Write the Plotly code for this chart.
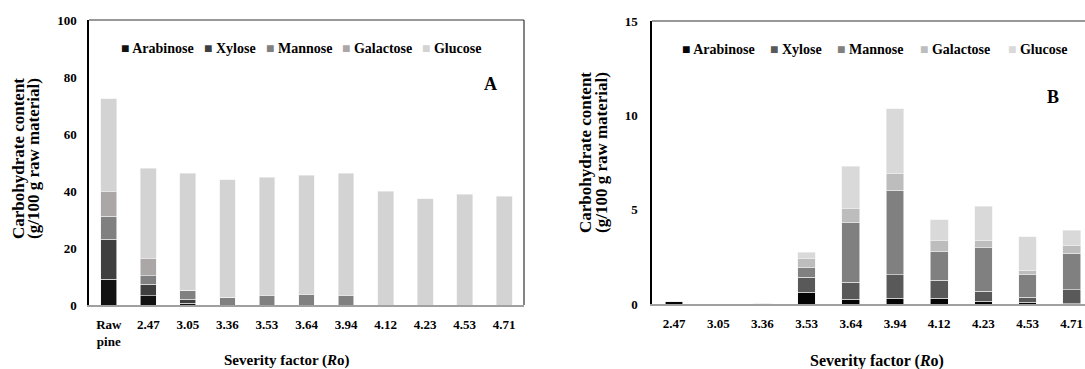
import plotly.graph_objects as go

# ---------------- data ----------------
sugars = ["Arabinose", "Xylose", "Mannose", "Galactose", "Glucose"]

# Panel A : carbohydrate content of solid fraction
cats_a = ["Raw pine", "2.47", "3.05", "3.36", "3.53", "3.64", "3.94", "4.12", "4.23", "4.53", "4.71"]
ticktext_a = ["Raw<br>pine", "2.47", "3.05", "3.36", "3.53", "3.64", "3.94", "4.12", "4.23", "4.53", "4.71"]
arabinose_a = [9.1, 3.3, 0.6, 0, 0, 0, 0, 0, 0, 0, 0]
xylose_a = [13.9, 3.9, 1.4, 0, 0, 0, 0, 0, 0, 0, 0]
mannose_a = [8.2, 3.1, 3.1, 2.8, 3.2, 3.6, 3.2, 0, 0, 0, 0]
galactose_a = [8.5, 6.0, 0, 0, 0, 0, 0, 0, 0, 0, 0]
glucose_a = [32.7, 31.6, 41.2, 41.1, 41.7, 42.0, 43.0, 40.0, 37.2, 38.9, 38.2]

# Panel B : carbohydrate content of liquid fraction
cats_b = ["2.47", "3.05", "3.36", "3.53", "3.64", "3.94", "4.12", "4.23", "4.53", "4.71"]
arabinose_b = [0.13, 0, 0.03, 0.63, 0.25, 0.30, 0.30, 0.14, 0.09, 0.02]
xylose_b = [0, 0, 0, 0.80, 0.91, 1.25, 0.97, 0.54, 0.27, 0.73]
mannose_b = [0, 0, 0, 0.53, 3.18, 4.49, 1.53, 2.30, 1.19, 1.95]
galactose_b = [0, 0, 0, 0.43, 0.71, 0.89, 0.59, 0.41, 0.24, 0.41]
glucose_b = [0, 0, 0, 0.34, 2.24, 3.43, 1.07, 1.79, 1.78, 0.80]

yticks_a = [0, 20, 40, 60, 80, 100]
yticks_b = [0, 5, 10, 15]

colors_a = ["#121212", "#3f3f3f", "#808080", "#aba7a7", "#d3d3d3"]
colors_b = ["#050505", "#595959", "#808080", "#bdbdbd", "#d9d9d9"]

# ---------------- figure ----------------
W, H = 1085, 369
FONT = "Liberation Serif"

def px_x(p):
    return p / W

def px_y(p):
    return (H - p) / H

fig = go.Figure()

series_a = [arabinose_a, xylose_a, mannose_a, galactose_a, glucose_a]
series_b = [arabinose_b, xylose_b, mannose_b, galactose_b, glucose_b]

for name, vals, col in zip(sugars, series_a, colors_a):
    fig.add_trace(go.Bar(x=cats_a, y=vals, name=name, xaxis="x", yaxis="y",
                         marker=dict(color=col, line=dict(color="#f2f2f2", width=0.6)),
                         showlegend=False))
for name, vals, col in zip(sugars, series_b, colors_b):
    fig.add_trace(go.Bar(x=cats_b, y=vals, name=name, xaxis="x2", yaxis="y2",
                         marker=dict(color=col, line=dict(color="#f2f2f2", width=0.6)),
                         showlegend=False))

tickfont = dict(family=FONT, size=13, color="black", weight="bold")

fig.update_layout(
    template="none",
    width=W, height=H, autosize=False,
    margin=dict(l=0, r=0, t=0, b=0, pad=0),
    paper_bgcolor="white", plot_bgcolor="white",
    barmode="stack", bargap=0.6,
    font=dict(family=FONT, color="black"),
    xaxis=dict(domain=[px_x(89), px_x(524)], anchor="y", type="category",
               categoryorder="array", categoryarray=cats_a,
               tickvals=cats_a, ticktext=ticktext_a, automargin=False,
               range=[-0.5, 10.5], showline=True, linecolor="#a0a0a0", linewidth=2,
               ticks="", showgrid=False, zeroline=False, tickfont=tickfont, ticklabelstandoff=6),
    yaxis=dict(domain=[px_y(305), px_y(20)], anchor="x", range=[0, 100], automargin=False,
               tickvals=yticks_a, showline=True, linecolor="black", linewidth=1.5,
               ticks="", showgrid=False, zeroline=False, tickfont=tickfont,
               ticklabelstandoff=8),
    xaxis2=dict(domain=[px_x(652), 1.0], anchor="y2", type="category",
                categoryorder="array", categoryarray=cats_b, automargin=False,
                range=[-0.5, 9.3], showline=True, linecolor="#a0a0a0", linewidth=2,
                ticks="", showgrid=False, zeroline=False, tickfont=tickfont, ticklabelstandoff=6),
    yaxis2=dict(domain=[px_y(304), px_y(21)], anchor="x2", range=[0, 15], automargin=False,
                tickvals=yticks_b, showline=True, linecolor="black", linewidth=1.5,
                ticks="", showgrid=False, zeroline=False, tickfont=tickfont,
                ticklabelstandoff=10),
)

# frame lines (top + right for A, top for B)
fig.add_shape(type="line", xref="x domain", yref="y domain", x0=0, x1=1, y0=1, y1=1,
              line=dict(color="#333333", width=1.2))
fig.add_shape(type="line", xref="x domain", yref="y domain", x0=1, x1=1, y0=0, y1=1,
              line=dict(color="#333333", width=1.2))
fig.add_shape(type="line", xref="x2 domain", yref="y2 domain", x0=0, x1=1, y0=1, y1=1,
              line=dict(color="#333333", width=1.2))

annots = []
# y-axis titles (two lines each)
for xc, txt in [(18, "Carbohydrate content"), (33, "(g/100 g raw material)")]:
    annots.append(dict(x=px_x(xc), y=px_y(159), xref="paper", yref="paper", text=txt,
                       textangle=-90, showarrow=False, xanchor="center", yanchor="middle",
                       font=dict(family=FONT, size=17, color="black", weight="bold")))
for xc, txt in [(585, "Carbohydrate content"), (601, "(g/100 g raw material)")]:
    annots.append(dict(x=px_x(xc), y=px_y(153), xref="paper", yref="paper", text=txt,
                       textangle=-90, showarrow=False, xanchor="center", yanchor="middle",
                       font=dict(family=FONT, size=17, color="black", weight="bold")))

# x-axis titles
annots.append(dict(x=px_x(287), y=px_y(360), xref="paper", yref="paper",
                   text="Severity factor (<i>R</i>o)", showarrow=False,
                   xanchor="center", yanchor="middle",
                   font=dict(family=FONT, size=15, color="black", weight="bold")))
annots.append(dict(x=px_x(877), y=px_y(361), xref="paper", yref="paper",
                   text="Severity factor (<i>R</i>o)", showarrow=False,
                   xanchor="center", yanchor="middle",
                   font=dict(family=FONT, size=16, color="black", weight="bold")))

# panel letters
annots.append(dict(x=px_x(490), y=px_y(84), xref="paper", yref="paper", text="A",
                   showarrow=False, xanchor="center", yanchor="middle",
                   font=dict(family=FONT, size=18, color="black", weight="bold")))
annots.append(dict(x=px_x(1053), y=px_y(97), xref="paper", yref="paper", text="B",
                   showarrow=False, xanchor="center", yanchor="middle",
                   font=dict(family=FONT, size=18, color="black", weight="bold")))

# legends (built as text annotations)
leg_a_x = [119, 202, 264, 340, 420]
leg_b_x = [680, 768, 835, 918, 1006]
for name, col, xl in zip(sugars, colors_a, leg_a_x):
    annots.append(dict(x=px_x(xl), y=px_y(48), xref="paper", yref="paper",
                       text=f"<span style='color:{col}'>■</span> {name}",
                       showarrow=False, xanchor="left", yanchor="middle",
                       font=dict(family=FONT, size=14, color="black", weight="bold")))
for name, col, xl in zip(sugars, colors_b, leg_b_x):
    annots.append(dict(x=px_x(xl), y=px_y(50), xref="paper", yref="paper",
                       text=f"<span style='color:{col}'>■</span> {name}",
                       showarrow=False, xanchor="left", yanchor="middle",
                       font=dict(family=FONT, size=14, color="black", weight="bold")))

fig.update_layout(annotations=annots)

fig.write_html("out.html",
               config={"responsive": False, "displayModeBar": False},
               post_script="document.body.style.margin='0';document.body.style.overflow='hidden';")
